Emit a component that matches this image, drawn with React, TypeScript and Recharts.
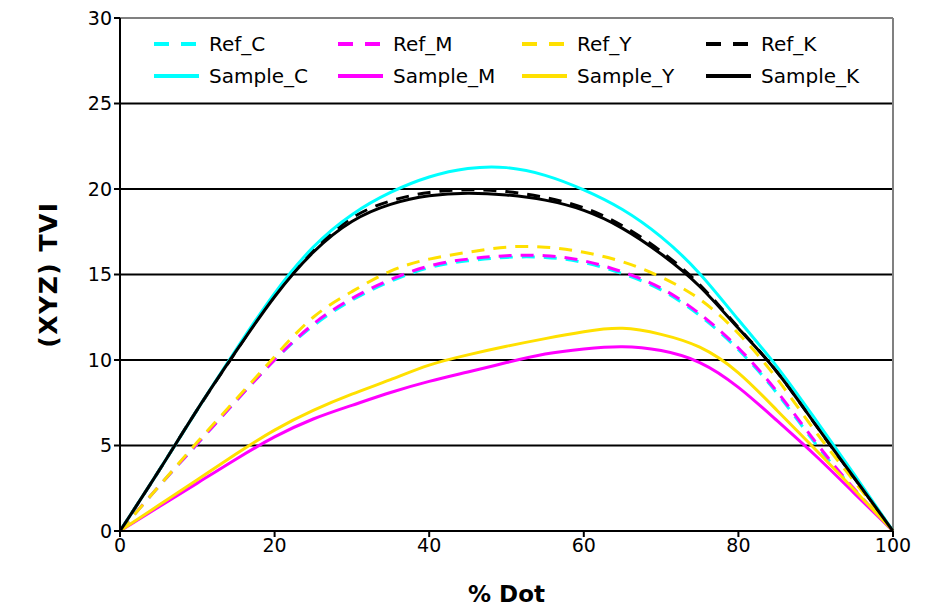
import React from "react";
import {
  LineChart,
  Line,
  XAxis,
  YAxis,
  CartesianGrid,
  ReferenceLine,
} from "recharts";

const dots = [0, 5, 10, 15, 20, 25, 30, 35, 40, 45, 50, 55, 60, 65, 70, 75, 80, 85, 90, 95, 100];

const refC = [0, 2.6, 5.1, 7.6, 10.0, 12.0, 13.5, 14.6, 15.4, 15.8, 16.0, 16.0, 15.7, 15.05, 14.1, 12.6, 10.6, 8.05, 5.1, 2.4, 0];
const refM = [0, 2.6, 5.1, 7.6, 10.0, 12.1, 13.6, 14.7, 15.5, 15.9, 16.1, 16.1, 15.8, 15.15, 14.2, 12.7, 10.7, 8.15, 5.2, 2.45, 0];
const refY = [0, 2.6, 5.2, 7.7, 10.2, 12.5, 14.0, 15.2, 15.9, 16.3, 16.6, 16.6, 16.3, 15.75, 14.85, 13.55, 11.55, 8.9, 5.8, 2.9, 0];
const refK = [0, 3.5, 7.1, 10.5, 13.8, 16.4, 18.3, 19.3, 19.8, 19.95, 19.85, 19.5, 18.9, 17.85, 16.35, 14.4, 11.9, 9.3, 6.2, 3.1, 0];

const sampleC = [0, 3.5, 7.1, 10.6, 13.9, 16.6, 18.5, 19.8, 20.7, 21.2, 21.25, 20.8, 19.95, 18.8, 17.2, 15.05, 12.35, 9.6, 6.5, 3.3, 0];
const sampleM = [0, 1.4, 2.8, 4.2, 5.5, 6.55, 7.35, 8.1, 8.75, 9.3, 9.85, 10.35, 10.65, 10.78, 10.55, 9.85, 8.4, 6.45, 4.4, 2.2, 0];
const sampleY = [0, 1.5, 3.0, 4.5, 5.9, 7.05, 8.0, 8.85, 9.7, 10.3, 10.8, 11.25, 11.65, 11.85, 11.5, 10.75, 9.25, 7.05, 4.75, 2.4, 0];
const sampleK = [0, 3.5, 7.1, 10.5, 13.7, 16.3, 18.1, 19.1, 19.6, 19.75, 19.65, 19.35, 18.75, 17.7, 16.2, 14.3, 11.85, 9.3, 6.2, 3.1, 0];

const xTicks = [0, 20, 40, 60, 80, 100];
const yTicks = [0, 5, 10, 15, 20, 25, 30];

const CYAN = "#00ffff";
const MAGENTA = "#ff00ff";
const YELLOW = "#ffe000";
const BLACK = "#000000";

const series = [
  { key: "Ref_C", values: refC, color: CYAN, dashed: true },
  { key: "Ref_M", values: refM, color: MAGENTA, dashed: true },
  { key: "Ref_Y", values: refY, color: YELLOW, dashed: true },
  { key: "Ref_K", values: refK, color: BLACK, dashed: true },
  { key: "Sample_C", values: sampleC, color: CYAN, dashed: false },
  { key: "Sample_M", values: sampleM, color: MAGENTA, dashed: false },
  { key: "Sample_Y", values: sampleY, color: YELLOW, dashed: false },
  { key: "Sample_K", values: sampleK, color: BLACK, dashed: false },
];

const data = dots.map((d, i) => {
  const row: Record<string, number> = { dot: d };
  for (const s of series) row[s.key] = s.values[i];
  return row;
});

const FONT = "'DejaVu Sans', Verdana, sans-serif";

// legend sits inside the plot, top-left, 4 columns x 2 rows
function LegendBox() {
  return (
    <div
      style={{
        position: "absolute",
        left: 154,
        top: 32,
        display: "grid",
        gridTemplateColumns: "repeat(4, 184px)",
        rowGap: 8,
        fontFamily: FONT,
        fontSize: 20,
        color: "#000",
      }}
    >
      {series.map((s) => (
        <div key={s.key} style={{ display: "flex", alignItems: "center", height: 24 }}>
          <svg width={46} height={10} style={{ marginRight: 9 }}>
            <line
              x1={0}
              y1={5}
              x2={45}
              y2={5}
              stroke={s.color}
              strokeWidth={4}
              strokeDasharray={s.dashed ? "15 12" : undefined}
            />
          </svg>
          <span>{s.key}</span>
        </div>
      ))}
    </div>
  );
}

export default function App() {
  return (
    <div style={{ position: "absolute", left: 0, top: 0, width: 942, height: 609, background: "#fff" }}>
      <LineChart
        width={942}
        height={609}
        data={data}
        margin={{ top: 18, right: 49, left: 60, bottom: 48 }}
      >
        <CartesianGrid vertical={false} stroke="#000" strokeWidth={2} />
        <XAxis
          dataKey="dot"
          type="number"
          domain={[0, 100]}
          ticks={xTicks}
          stroke="#000"
          strokeWidth={2}
          tickSize={6}
          tick={{ fill: "#000", fontSize: 19, fontFamily: FONT }}
          height={30}
          label={{
            value: "% Dot",
            position: "insideBottom",
            offset: -41,
            style: { fontFamily: FONT, fontSize: 23, fontWeight: "bold", fill: "#000" },
          }}
        />
        <YAxis
          type="number"
          domain={[0, 30]}
          ticks={yTicks}
          stroke="#000"
          strokeWidth={2}
          tickSize={6}
          width={60}
          tick={{ fill: "#000", fontSize: 19, fontFamily: FONT }}
          label={{
            value: "(XYZ) TVI",
            angle: -90,
            position: "insideLeft",
            offset: -12,
            style: {
              fontFamily: FONT,
              fontSize: 25,
              fontWeight: "bold",
              letterSpacing: 1.5,
              fill: "#000",
              textAnchor: "middle",
            },
          }}
        />
        <ReferenceLine y={30} stroke="#808080" strokeWidth={2} />
        <ReferenceLine x={100} stroke="#808080" strokeWidth={2} />
        {series.map((s) => (
          <Line
            key={s.key}
            type="natural"
            dataKey={s.key}
            stroke={s.color}
            strokeWidth={3}
            strokeDasharray={s.dashed ? "13 9" : undefined}
            dot={false}
            activeDot={false}
            isAnimationActive={false}
          />
        ))}
      </LineChart>
      <LegendBox />
    </div>
  );
}
